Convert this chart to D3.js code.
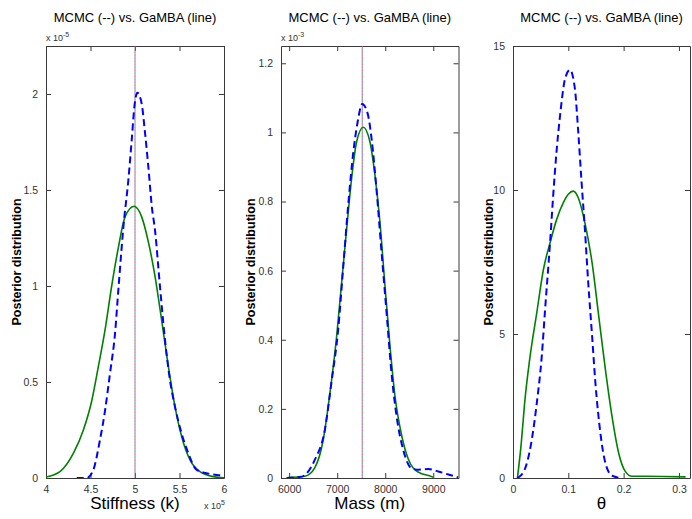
<!DOCTYPE html>
<html><head><meta charset="utf-8">
<script src="https://cdn.jsdelivr.net/npm/d3@7"></script>
<style>
html,body{margin:0;padding:0;background:#fff;}
svg text{font-family:Arial,"Liberation Sans",sans-serif;}
</style></head>
<body><svg id="c" width="692" height="519"></svg>
<script>
// ---------- data (plotted units) ----------
const titleText = "MCMC (--) vs. GaMBA (line)";
const yLabelText = "Posterior distribution";

// Panel 1: Stiffness (x 1e5), density (x 1e-5)
const stiffXTicks = [4, 4.5, 5, 5.5, 6];
const stiffYTicks = [0, 0.5, 1, 1.5, 2];
const stiffTrue = 5.0;
const stiffGambaX = [4.0,4.157,4.307,4.42,4.513,4.588,4.663,4.738,4.813,4.888,4.99,5.075,5.15,5.225,5.30,5.375,5.45,5.525,5.618,5.73,5.88,6.0];
const stiffGambaY = [0.005,0.033,0.128,0.25,0.40,0.58,0.77,1.0,1.20,1.36,1.415,1.36,1.23,1.05,0.82,0.58,0.37,0.215,0.094,0.033,0.007,0.001];
const stiffMcmcX = [4.345,4.457,4.53,4.607,4.663,4.719,4.775,4.813,4.85,4.87,4.925,4.963,4.993,5.026,5.075,5.11,5.15,5.19,5.225,5.28,5.337,5.393,5.45,5.525,5.6,5.69,5.80,5.92,6.0];
const stiffMcmcY = [0,0,0.04,0.20,0.35,0.545,0.75,0.98,1.20,1.31,1.55,1.76,1.934,2.007,1.95,1.81,1.62,1.41,1.29,1.0,0.72,0.51,0.37,0.23,0.128,0.043,0.025,0.016,0.012];

// Panel 2: Mass, density (x 1e-3)
const massXTicks = [6000, 7000, 8000, 9000];
const massYTicks = [0, 0.2, 0.4, 0.6, 0.8, 1, 1.2];
const massTrue = 7521;
const massGambaX = [5980,6327,6535,6708,6848,6988,7092,7196,7300,7404,7542,7681,7785,7890,7994,8098,8202,8342,8479,8688,8967,9000];
const massGambaY = [0.001,0.005,0.03,0.11,0.245,0.41,0.565,0.72,0.867,0.973,1.015,0.973,0.877,0.74,0.557,0.383,0.238,0.123,0.055,0.017,0.004,0.002];
const massMcmcX = [5946,6258,6535,6744,6883,7021,7125,7229,7333,7425,7521,7633,7717,7821,7925,8029,8133,8238,8375,8550,8688,8896,9104,9313,9521];
const massMcmcY = [0,0.004,0.053,0.14,0.28,0.43,0.61,0.79,0.94,1.03,1.082,1.055,0.98,0.83,0.65,0.476,0.30,0.177,0.081,0.028,0.024,0.026,0.019,0.01,0.002];

// Panel 3: theta
const thetaXTicks = [0, 0.1, 0.2, 0.3];
const thetaYTicks = [0, 5, 10, 15];
const thetaGambaX = [0.008,0.015,0.021,0.030,0.043,0.055,0.067,0.079,0.091,0.100,0.109,0.118,0.130,0.143,0.155,0.167,0.179,0.191,0.203,0.215,0.24,0.312];
const thetaGambaY = [0,1.22,2.6,4.1,5.74,7.24,8.17,8.98,9.56,9.85,9.96,9.73,8.86,7.47,5.62,3.77,2.14,0.87,0.23,0.06,0.06,0.04];
const thetaMcmcX = [0.008,0.021,0.033,0.043,0.052,0.058,0.067,0.073,0.079,0.085,0.094,0.103,0.112,0.118,0.124,0.130,0.136,0.143,0.149,0.158,0.167,0.179,0.195];
const thetaMcmcY = [0,0.29,1.22,2.6,4.23,5.85,8.17,9.9,11.4,12.57,13.85,14.17,13.5,12.0,10.26,8.63,6.78,4.93,3.3,1.56,0.52,0.08,0];

// ---------- panel layout ----------
const panels = [
  {x0:46, x1:224, xd:[4,6], yd:[0,2.25], xt:stiffXTicks, yt:stiffYTicks,
   gx:stiffGambaX, gy:stiffGambaY, mx:stiffMcmcX, my:stiffMcmcY, vline:stiffTrue,
   xlabel:"Stiffness (k)", yExp:"-5", xExp:"5", ylab:17},
  {x0:281, x1:458.5, xd:[5830,9525], yd:[0,1.25], xt:massXTicks, yt:massYTicks,
   gx:massGambaX, gy:massGambaY, mx:massMcmcX, my:massMcmcY, vline:massTrue,
   xlabel:"Mass (m)", yExp:"-3", xExp:null, ylab:251},
  {x0:513, x1:690, xd:[0,0.32], yd:[0,15], xt:thetaXTicks, yt:thetaYTicks,
   gx:thetaGambaX, gy:thetaGambaY, mx:thetaMcmcX, my:thetaMcmcY, vline:null,
   xlabel:"\u03b8", yExp:null, xExp:null, ylab:489}
];
const yTop = 46, yBot = 478;
const svg = d3.select("#c");
const axisColor = "#3a3a3a", textColor = "#333";

panels.forEach((p, i) => {
  const x = d3.scaleLinear().domain(p.xd).range([p.x0, p.x1]);
  const y = d3.scaleLinear().domain(p.yd).range([yBot, yTop]);
  const g = svg.append("g");
  const cid = "clip" + i;
  svg.append("clipPath").attr("id", cid).append("rect")
    .attr("x", p.x0).attr("y", yTop).attr("width", p.x1 - p.x0).attr("height", yBot - yTop);

  const fmt = d => String(d);
  const tl = 5;
  const axB = d3.axisBottom(x).tickValues(p.xt).tickSizeInner(-tl).tickSizeOuter(0).tickPadding(8).tickFormat(fmt);
  const axT = d3.axisTop(x).tickValues(p.xt).tickSizeInner(-tl).tickSizeOuter(0).tickFormat("");
  const axL = d3.axisLeft(y).tickValues(p.yt).tickSizeInner(-tl).tickSizeOuter(0).tickPadding(8).tickFormat(fmt);
  const axR = d3.axisRight(y).tickValues(p.yt).tickSizeInner(-tl).tickSizeOuter(0).tickFormat("");
  const gb = g.append("g").attr("transform", `translate(0,${yBot})`).call(axB);
  const gt = g.append("g").attr("transform", `translate(0,${yTop})`).call(axT);
  const gl = g.append("g").attr("transform", `translate(${p.x0},0)`).call(axL);
  const gr = g.append("g").attr("transform", `translate(${p.x1},0)`).call(axR);
  [gb, gt, gl, gr].forEach(a => {
    a.select(".domain").attr("stroke", axisColor).attr("stroke-width", 1);
    a.selectAll(".tick line").attr("stroke", axisColor);
    a.selectAll(".tick text").attr("fill", textColor).attr("font-size", 10.5)
      .attr("font-family", "Arial, 'Liberation Sans', sans-serif");
  });

  if (p.vline !== null) {
    const vx = x(p.vline);
    [["#e040a0", 0], ["#40b040", 1], ["#a070e0", 2]].forEach(([c, off]) => {
      g.append("line").attr("x1", vx).attr("x2", vx).attr("y1", yTop).attr("y2", yBot)
        .attr("stroke", c).attr("stroke-width", 1).attr("stroke-dasharray", "1,2")
        .attr("stroke-dashoffset", off);
    });
  }

  const line = d3.line().x(d => x(d[0])).y(d => y(d[1])).curve(d3.curveMonotoneX);
  const gPts = p.gx.map((v, k) => [v, p.gy[k]]);
  const mPts = p.mx.map((v, k) => [v, p.my[k]]);
  g.append("path").datum(gPts).attr("clip-path", `url(#${cid})`)
    .attr("d", line).attr("fill", "none").attr("stroke", "#008000").attr("stroke-width", 1.6);
  g.append("path").datum(mPts).attr("clip-path", `url(#${cid})`)
    .attr("d", line).attr("fill", "none").attr("stroke", "#0000ff").attr("stroke-width", 2)
    .attr("stroke-dasharray", "7,4");

  const cx = (p.x0 + p.x1) / 2;
  g.append("text").attr("x", cx).attr("y", 22).attr("text-anchor", "middle")
    .attr("font-size", 13).attr("fill", "#000").text(titleText);
  g.append("text").attr("transform", `translate(${p.ylab},${(yTop + yBot) / 2}) rotate(-90)`)
    .attr("text-anchor", "middle").attr("dy", "0.35em").attr("font-size", 12.5)
    .attr("font-weight", "bold").attr("fill", "#000").text(yLabelText);
  g.append("text").attr("x", cx).attr("y", 509).attr("text-anchor", "middle")
    .attr("font-size", 17).attr("fill", "#000").text(p.xlabel);
  if (p.yExp) {
    const t = g.append("text").attr("x", p.x0).attr("y", 41).attr("font-size", 9).attr("fill", textColor);
    t.append("tspan").text("x 10");
    t.append("tspan").attr("dy", -4).attr("font-size", 7).text(p.yExp);
  }
  if (p.xExp) {
    const t = g.append("text").attr("x", p.x1 - 20).attr("y", 509).attr("font-size", 9).attr("fill", textColor);
    t.append("tspan").text("x 10");
    t.append("tspan").attr("dy", -4).attr("font-size", 7).text(p.xExp);
  }
});
</script></body></html>
